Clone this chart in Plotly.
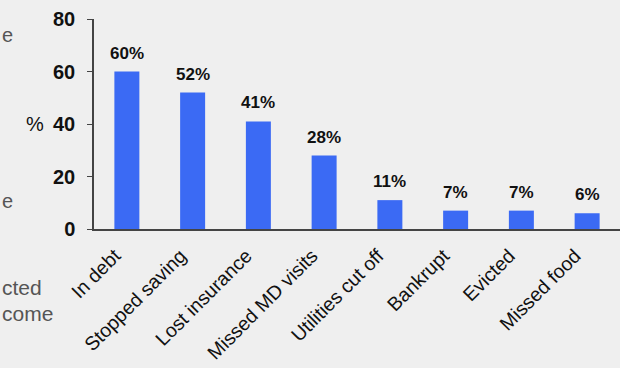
import plotly.graph_objects as go

categories = ["In debt", "Stopped saving", "Lost insurance", "Missed MD visits",
              "Utilities cut off", "Bankrupt", "Evicted", "Missed food"]
values = [60, 52, 41, 28, 11, 7, 7, 6]
y_ticks = [0, 20, 40, 60, 80]

W, H = 620, 368
L, R, T, B = 94, 0, 19, 139
pw = W - L - R
ph = H - T - B

fig = go.Figure()
fig.add_trace(go.Bar(
    x=categories, y=values,
    marker=dict(color="#3b6af4", line=dict(width=0)),
    cliponaxis=False,
))

def px_x(p):
    return (p - L) / pw

def px_y(p):
    return 1 - (p - T) / ph

annots = []
for c, v in zip(categories, values):
    annots.append(dict(x=c, y=v, xref="x", yref="y", text=f"{v}%", showarrow=False,
                       yanchor="bottom", yshift=7,
                       font=dict(family="Liberation Sans, Arial", size=17, color="#111",
                                 weight=700)))

side = [
    dict(text="%", x=px_x(46), y=px_y(124), xanchor="right", yanchor="middle",
         font=dict(size=20, color="#111")),
    dict(text="e", x=px_x(0), y=px_y(35), xanchor="left", yanchor="middle",
         font=dict(size=20, color="#555")),
    dict(text="e", x=px_x(0), y=px_y(201), xanchor="left", yanchor="middle",
         font=dict(size=20, color="#555")),
    dict(text="cted", x=px_x(0), y=px_y(287), xanchor="left", yanchor="middle",
         font=dict(size=21, color="#555")),
    dict(text="come", x=px_x(0), y=px_y(313), xanchor="left", yanchor="middle",
         font=dict(size=21, color="#555")),
]
for a in side:
    a.update(xref="paper", yref="paper", showarrow=False)
    a["font"]["family"] = "Liberation Sans, Arial"
annots += side

fig.update_layout(
    width=W, height=H,
    margin=dict(l=L, r=R, t=T, b=B, autoexpand=False),
    paper_bgcolor="#efefef", plot_bgcolor="#efefef",
    bargap=0.62,
    showlegend=False,
    annotations=annots,
    font=dict(family="Liberation Sans, Arial", color="#111"),
    xaxis=dict(
        tickangle=-45, showline=True, linecolor="#444", linewidth=1.5,
        ticks="", tickfont=dict(size=19.5, color="#111"), showgrid=False,
        automargin=False, ticklabelshift=-12, ticklabelstandoff=6,
    ),
    yaxis=dict(
        range=[0, 80], tickvals=y_ticks, showline=True, linecolor="#444",
        linewidth=1.5, ticks="outside", ticklen=5, tickcolor="#444",
        tickfont=dict(size=20, color="#111", weight=700), showgrid=False,
        zeroline=False, automargin=False, ticklabelstandoff=8,
    ),
)

fig.write_html("out.html", config={"displayModeBar": False})
with open("out.html", "r", encoding="utf-8") as f:
    html = f.read()
html = html.replace("<head>", "<head><style>html,body{margin:0;padding:0;background:#efefef;overflow:hidden}</style>", 1)
with open("out.html", "w", encoding="utf-8") as f:
    f.write(html)
